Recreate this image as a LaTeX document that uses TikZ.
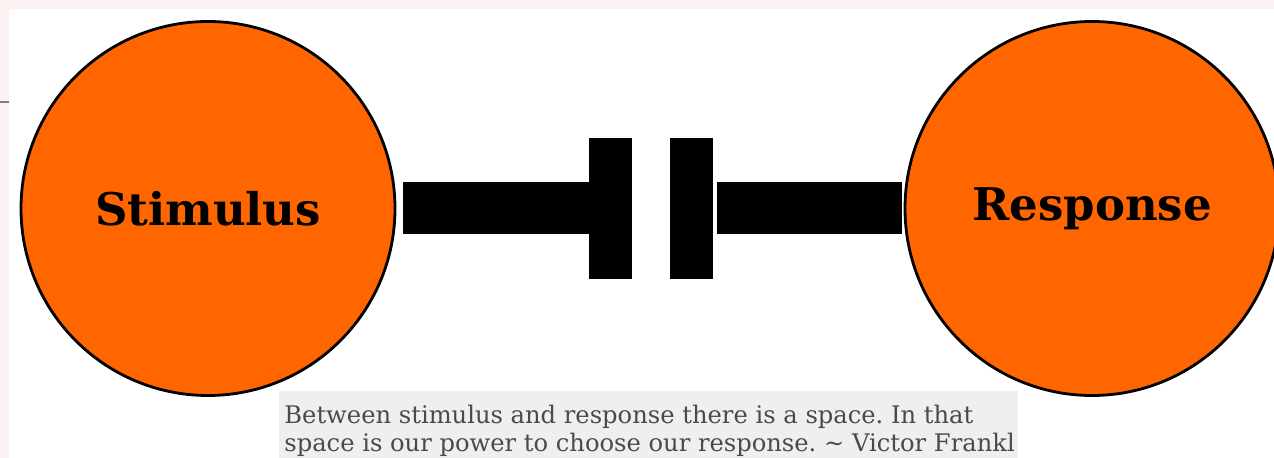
\documentclass[tikz,border=0pt]{standalone}
\usepackage{fontspec}
\setmainfont{DejaVu Serif}
\usetikzlibrary{positioning}
\definecolor{frankOrange}{HTML}{FF6600}
\definecolor{edgePink}{HTML}{FDF0F1}
\definecolor{quoteBg}{HTML}{EFEFEF}
\definecolor{quoteText}{HTML}{4A4A4A}
\frenchspacing

\begin{document}
\begin{tikzpicture}[
    x=0.5pt, y=-0.5pt,
    bubble/.style={circle, draw=black, line width=1.4pt, fill=frankOrange,
                   minimum size=187pt, inner sep=0pt,
                   font=\fontsize{22.5pt}{27pt}\selectfont\bfseries},
    plate/.style={rectangle, fill=black, minimum width=21.5pt,
                  minimum height=70.5pt, inner sep=0pt},
    bar/.style={line width=26pt, black},
    quote/.style={text=quoteText, align=left, inner sep=0pt,
                  font=\fontsize{12.1pt}{14pt}\selectfont},
  ]
    \useasboundingbox (0,0) rectangle (1274,458);
    \clip (0,0) rectangle (1274,458);
    \fill[white] (0,0) rectangle (1274,458);
    \fill[edgePink] (0,0) rectangle (1274,9);
    \fill[edgePink] (0,0) rectangle (9,458);
    \draw[gray, line width=0.6pt] (0,102) -- (9,102);

    \node[bubble] (stim) at (208,208.5) {Stimulus};
    \node[bubble] (resp) at (1092,208.5) {Response};

    \node[plate] (pl) at (610.5,208.5) {};
    \node[plate, right=18.5pt of pl] (pr) {};

    \draw[bar, shorten <=3.5pt] (stim) -- (pl);
    \draw[bar, shorten <=2pt, shorten >=1pt] (pr) -- (resp);

    % quote box
    \fill[quoteBg] (279,391) rectangle (1018,458);
    \node[quote, anchor=base west] (saying) at (284,452)
      {Between stimulus and response there is a space. In that\\
       space is our power to choose our response. \textasciitilde{} Victor Frankl};
  \end{tikzpicture}
\end{document}
